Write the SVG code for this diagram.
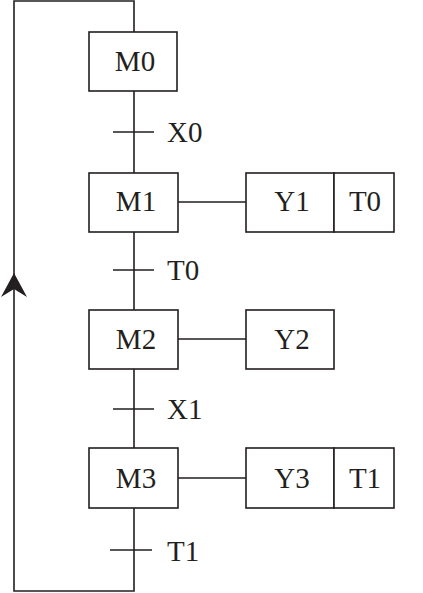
<svg xmlns="http://www.w3.org/2000/svg" width="423" height="593" viewBox="0 0 423 593">
<style>
.b{fill:#fff;stroke:#231f20;stroke-width:1.6}
.l{fill:none;stroke:#231f20;stroke-width:1.6}
.t{font-family:"Liberation Serif","Times New Roman",serif;font-size:29px;fill:#231f20;text-anchor:middle}
.c{font-family:"Liberation Serif","Times New Roman",serif;font-size:29px;fill:#231f20}
</style>
<rect width="423" height="593" fill="#fff"/>
<g id="connectors">
<path class="l" d="M134,32 V1 H14 V591 H134 V508"/>
<path d="M14,273 L27,297 L14,289 L1,297 Z" fill="#231f20"/>
<path class="l" d="M134,91 V173 M134,232 V310 M134,369 V448"/>
<path class="l" d="M113,132 H154 M113,270 H154 M113,409 H154 M110,550 H152"/>
<path class="l" d="M178,202 H246 M178,339 H246 M178,478 H246"/>
<text class="c" x="167" y="142">X0</text>
<text class="c" x="167" y="280">T0</text>
<text class="c" x="167" y="419">X1</text>
<text class="c" x="167" y="561">T1</text>
</g>
<g id="M0"><rect class="b" x="89" y="32" width="88" height="59"/><text class="t" x="135" y="71">M0</text></g>
<g id="M1"><rect class="b" x="89" y="173" width="89" height="59"/><text class="t" x="136" y="211">M1</text></g>
<g id="M2"><rect class="b" x="89" y="310" width="89" height="59"/><text class="t" x="136" y="349">M2</text></g>
<g id="M3"><rect class="b" x="89" y="448" width="89" height="60"/><text class="t" x="136" y="488">M3</text></g>
<g id="Y1"><rect class="b" x="246" y="173" width="88" height="59"/><text class="t" x="292" y="211">Y1</text></g>
<g id="T0"><rect class="b" x="334" y="173" width="60" height="59"/><text class="t" x="365" y="211">T0</text></g>
<g id="Y2"><rect class="b" x="246" y="310" width="88" height="59"/><text class="t" x="292" y="349">Y2</text></g>
<g id="Y3"><rect class="b" x="246" y="448" width="88" height="60"/><text class="t" x="292" y="488">Y3</text></g>
<g id="T1"><rect class="b" x="334" y="448" width="60" height="60"/><text class="t" x="365" y="488">T1</text></g>
</svg>
